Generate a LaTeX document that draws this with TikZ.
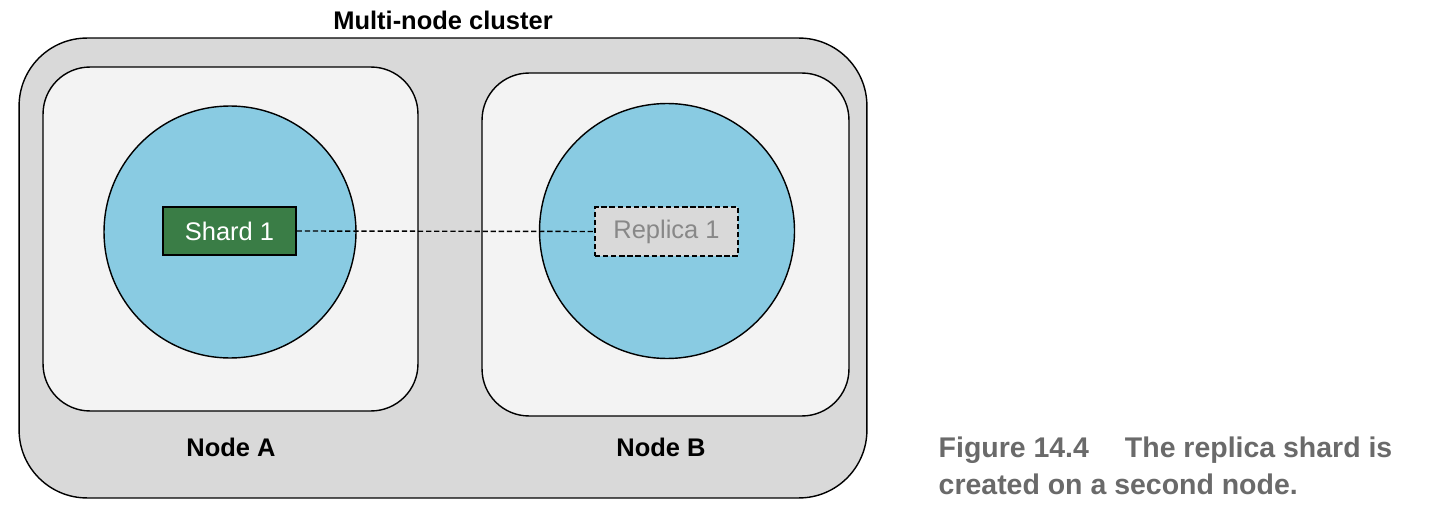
\documentclass[tikz,border=0pt]{standalone}
\usepackage{fontspec}
\setmainfont{Liberation Sans}
\usepackage{xcolor}
\usetikzlibrary{positioning}

\definecolor{clustergray}{RGB}{217,217,217}
\definecolor{hostgray}{RGB}{243,243,243}
\definecolor{diskblue}{RGB}{137,203,226}
\definecolor{shardgreen}{RGB}{58,125,70}
\definecolor{replicatext}{RGB}{136,136,136}
\definecolor{captiongray}{RGB}{106,106,106}

\begin{document}
\begin{tikzpicture}[
  x=0.02cm,
  y=-0.02cm,
  line width=0.8pt,
  lbl/.style={
    font=\fontsize{14.5}{17}\selectfont
  },
  cluster/.style={
    draw,
    fill=clustergray,
    rounded corners=1.36cm,
    inner sep=0pt
  },
  hostbox/.style={
    draw,
    fill=hostgray,
    rounded corners=0.94cm,
    inner sep=0pt
  },
  disk/.style={
    draw,
    circle,
    fill=diskblue,
    inner sep=0pt
  },
  shardbox/.style={
    draw,
    lbl,
    fill=shardgreen,
    text=white,
    minimum width=2.66cm,
    minimum height=0.96cm,
    inner sep=0pt
  },
  replicabox/.style={
    draw,
    lbl,
    dash pattern=on 3pt off 1.6pt,
    fill=clustergray,
    text=replicatext,
    minimum width=2.86cm,
    minimum height=0.98cm,
    inner sep=0pt
  },
  link/.style={
    dash pattern=on 3pt off 1.6pt
  },
  caption/.style={
    font=\fontsize{16.2}{20}\selectfont\bfseries,
    text=captiongray,
    anchor=base west,
    inner sep=0pt
  }
]

\useasboundingbox (0,0) rectangle (1432,520);

% cluster and its two hosts
\node [cluster, minimum width=16.96cm, minimum height=9.2cm] (cluster) at (443,268) {};
\node [lbl, font=\fontsize{14.5}{17}\selectfont\bfseries] (clustername) at (443,20) {Multi-node cluster};

\node [hostbox, minimum width=7.5cm, minimum height=6.88cm] (hostA) at (230.5,239) {};
\node [hostbox, minimum width=7.34cm, minimum height=6.86cm] (hostB) at (665.5,244.5) {};

\node [disk, minimum size=5.04cm] (diskA) at (230,232) {};
\node [disk, minimum size=5.1cm] (diskB) at (667,231) {};

% shards
\node [shardbox] (shard) at (229.5,231) {Shard 1};
\node [replicabox] (replica) at (666.5,231.5) {Replica 1};

\draw [link] (shard.east) -- (replica.west);

\node [lbl, font=\fontsize{14.5}{17}\selectfont\bfseries] (nameA) at (231,447) {Node A};
\node [lbl, font=\fontsize{14.5}{17}\selectfont\bfseries] (nameB) at (661,447) {Node B};

% caption
\node [caption] (cap1) at (938,457) {Figure 14.4\hspace{0.72cm}The replica shard is};
\node [caption] (cap2) at (938,494) {created on a second node.};

\end{tikzpicture}
\end{document}
